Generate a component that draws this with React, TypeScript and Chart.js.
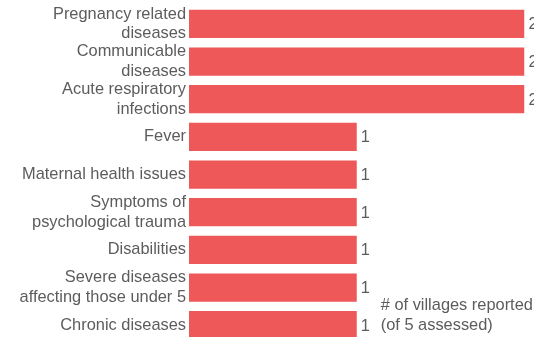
import React, { useEffect, useRef } from "react";
import { Chart, registerables } from "chart.js";

Chart.register(...registerables);

const categories: (string | string[])[] = [
  ["Pregnancy related", "diseases"],
  ["Communicable", "diseases"],
  ["Acute respiratory", "infections"],
  "Fever",
  "Maternal health issues",
  ["Symptoms of", "psychological trauma"],
  "Disabilities",
  ["Severe diseases", "affecting those under 5"],
  "Chronic diseases",
];
const values: number[] = [2, 2, 2, 1, 1, 1, 1, 1, 1];
const noteLines: string[] = ["# of villages reported", "(of 5 assessed)"];

const BAR_COLOR = "#EE5859";
const TEXT_COLOR = "#5c5c5c";
const FONT_FAMILY = "'Liberation Sans', Arial, Helvetica, sans-serif";
const FONT_SIZE = 16.4;

const labelPlugin = {
  id: "valueLabels",
  afterDatasetsDraw(chart: any) {
    const ctx = chart.ctx;
    const meta = chart.getDatasetMeta(0);
    ctx.save();
    ctx.font = `${FONT_SIZE}px ${FONT_FAMILY}`;
    ctx.fillStyle = TEXT_COLOR;
    ctx.textAlign = "left";
    ctx.textBaseline = "middle";
    meta.data.forEach((bar: any, i: number) => {
      ctx.fillText(String(values[i]), bar.x + 4, bar.y + 1);
    });
    const last = meta.data[meta.data.length - 1];
    const xs = chart.scales.x;
    const nx = xs.getPixelForValue(1) + 24;
    ctx.fillText(noteLines[0], nx, last.y - 20);
    ctx.fillText(noteLines[1], nx, last.y);
    ctx.restore();
  },
};

export default function App() {
  const ref = useRef<HTMLCanvasElement | null>(null);
  useEffect(() => {
    if (!ref.current) return;
    const chart = new Chart(ref.current, {
      type: "bar",
      data: {
        labels: categories,
        datasets: [
          {
            data: values,
            backgroundColor: BAR_COLOR,
            borderWidth: 0,
            barPercentage: 0.75,
            categoryPercentage: 1,
          },
        ],
      },
      options: {
        indexAxis: "y",
        animation: false,
        responsive: false,
        maintainAspectRatio: false,
        layout: { padding: { top: 5, bottom: 2, left: 0, right: 9.5 } },
        plugins: {
          legend: { display: false },
          tooltip: { enabled: false },
        },
        scales: {
          x: { display: false, min: 0, max: 2 },
          y: {
            grid: { display: false, drawTicks: false },
            border: { display: false },
            afterFit: (scale: any) => {
              scale.width = 189;
              scale.paddingTop = 0;
              scale.paddingBottom = 0;
            },
            ticks: {
              color: TEXT_COLOR,
              padding: 3,
              autoSkip: false,
              font: { size: FONT_SIZE, family: FONT_FAMILY, lineHeight: 1.2 },
            },
          },
        },
      },
      plugins: [labelPlugin],
    });
    return () => chart.destroy();
  }, []);
  return (
    <div
      style={{
        position: "fixed",
        top: 0,
        left: 0,
        width: 534,
        height: 337,
        overflow: "hidden",
        background: "#fff",
      }}
    >
      <canvas ref={ref} width={534} height={346} style={{ display: "block" }} />
    </div>
  );
}
